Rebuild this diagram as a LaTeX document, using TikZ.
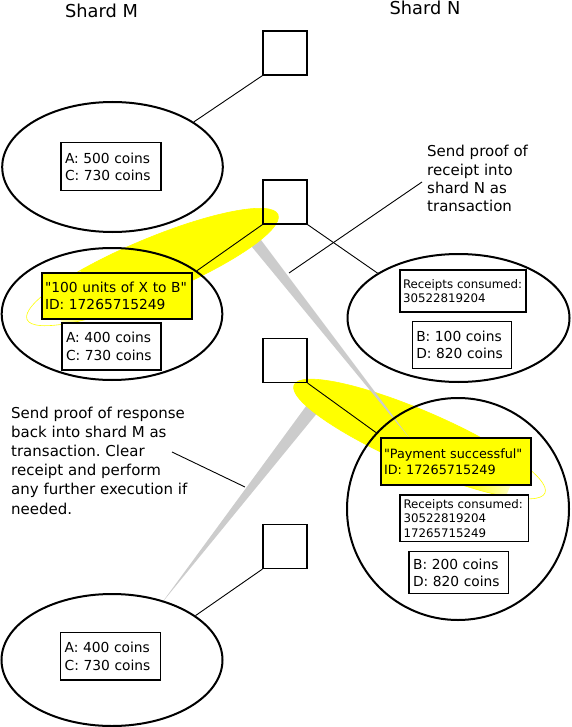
\documentclass[tikz,border=0pt]{standalone}
\usepackage{fontspec}
\setmainfont{DejaVu Sans}[Ligatures=TeXOff]
\frenchspacing
\usetikzlibrary{shapes.geometric}
\definecolor{wedgegray}{RGB}{204,204,204}
\definecolor{hl}{RGB}{255,255,0}
\begin{document}
\begin{tikzpicture}[x=1pt,y=-1pt,
  shell/.style={draw, ellipse, line width=2, inner sep=0},
  blockbox/.style={draw, line width=1.3, minimum size=44, inner sep=0},
  coinbox/.style={draw, line width=1.3, fill=white, align=left, inner xsep=4, inner ysep=0, font=\fontsize{13.8}{17.3}\selectfont},
  rcptbox/.style={coinbox, inner xsep=3, font=\fontsize{11.8}{14.7}\selectfont},
  txbox/.style={coinbox, fill=hl, line width=2, inner xsep=3.3},
  note/.style={align=left, inner sep=0, anchor=north west},
  conn/.style={line width=0.9},
  title/.style={font=\fontsize{17.8}{20}\selectfont, anchor=base, inner sep=0},
  wedge/.style={fill=wedgegray, draw=none}
]
\useasboundingbox (0,0) rectangle (571,727);

% titles
\node[title] (tm) at (101.5,17.3) {Shard M};
\node[title] (tn) at (425,15) {Shard N};

% wedge 2 (response proof), under highlight 2
\fill[wedge] (161,604) -- (317.2,413.0) -- (306.9,405.0) -- cycle;

% highlight 2
\begin{scope}[shift={(419.5,439)}, rotate=-23.3]
  \begin{scope}
    \clip (0,0) ellipse [x radius=136.6, y radius=28];
    \fill[hl] (-140,-30) rectangle (62,30);
    \shade[left color=hl, right color=white] (62,-30) rectangle (102,30);
  \end{scope}
  \draw[hl, line width=0.6] (0,0) ellipse [x radius=136.6, y radius=28];
\end{scope}

% wedge 1 (receipt proof)
\fill[wedge] (411,440) -- (254.8,231.7) -- (245.4,239.0) -- cycle;

% highlight 1
\begin{scope}[shift={(152.5,267)}, rotate=22.7]
  \begin{scope}
    \clip (0,0) ellipse [x radius=136, y radius=28.5];
    \fill[hl] (-68,-30) rectangle (140,30);
    \shade[left color=white, right color=hl] (-105,-30) rectangle (-68,30);
  \end{scope}
  \draw[hl, line width=0.6] (0,0) ellipse [x radius=136, y radius=28.5];
\end{scope}

% shard state ellipses
\node[shell, minimum width=220.6, minimum height=130] (e1) at (112.5,167) {};
\node[shell, minimum width=220.6, minimum height=132] (e2) at (112,314) {};
\node[shell, minimum width=222, minimum height=128] (e3) at (458.5,318) {};
\node[shell, minimum width=222, minimum height=222] (e4) at (458,509) {};
\node[shell, minimum width=221, minimum height=132] (e5) at (112,660) {};

% blocks
\node[blockbox] (b1) at (285,53) {};
\node[blockbox] (b2) at (285,202) {};
\node[blockbox] (b3) at (285,360.5) {};
\node[blockbox] (b4) at (285,546.5) {};

% connectors
\draw[conn] (b1.south west) -- (e1.29);
\draw[conn] (b2.south west) -- (e2.27);
\draw[conn] (b2.south east) -- (e3.151);
\draw[conn] (b3.south east) -- (e4.137);
\draw[conn] (b4.south west) -- (e5.28);

% annotations
\node[note, font=\fontsize{15}{18.3}\selectfont] (n1) at (427,145.3) {Send proof of\\receipt into\\shard N as\\transaction};
\node[note, font=\fontsize{15}{19.1}\selectfont] (n2) at (11,406.9) {Send proof of response\\back into shard M as\\transaction. Clear\\receipt and perform\\any further execution if\\needed.};
\coordinate (a1s) at (422,182);
\coordinate (a1e) at (289,273);
\coordinate (a2s) at (172,452);
\coordinate (a2e) at (245,487);
\draw[conn] (a1s) -- (a1e);
\draw[conn] (a2s) -- (a2e);

% content boxes
\node[coinbox, minimum width=100, minimum height=48, text width=92] (k1) at (111,166.7) {A: 500 coins\\C: 730 coins};
\node[txbox, minimum width=150, minimum height=46, text width=143.4] (k2) at (116.7,296) {\mbox{"100 units of X to B"}\\ID: 17265715249};
\node[coinbox, minimum width=99, minimum height=47, text width=91] (k3) at (111.5,346.5) {A: 400 coins\\C: 730 coins};
\node[rcptbox, minimum width=126, minimum height=42, text width=120] (k4) at (463,291) {\mbox{Receipts consumed:}\\30522819204};
\node[coinbox, minimum width=99.5, minimum height=46.7, text width=91.5] (k5) at (462,345) {B: 100 coins\\D: 820 coins};
\node[txbox, minimum width=150, minimum height=46.7, text width=143.4, font=\fontsize{12.8}{16.5}\selectfont] (k6) at (455.7,461.7) {\mbox{"Payment successful"}\\ID: 17265715249};
\node[rcptbox, minimum width=128.3, minimum height=46.7, text width=121.3, inner xsep=3.5] (k7) at (464.2,518.3) {\mbox{Receipts consumed:}\\30522819204\\17265715249};
\node[coinbox, minimum width=99.3, minimum height=41.7, text width=91.3] (k8) at (458.7,572.5) {B: 200 coins\\D: 820 coins};
\node[coinbox, minimum width=100, minimum height=47.3, text width=92] (k9) at (110.7,656.3) {A: 400 coins\\C: 730 coins};
\end{tikzpicture}
\end{document}
